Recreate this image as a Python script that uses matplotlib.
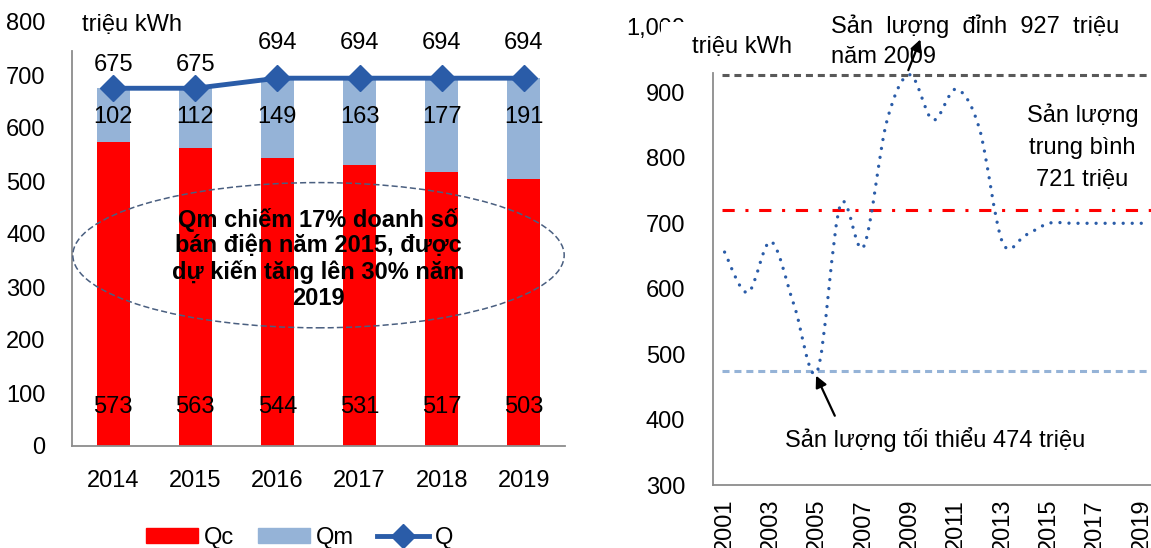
import matplotlib

matplotlib.use("Agg")
import matplotlib.pyplot as plt
import numpy as np
from matplotlib.patches import Ellipse, PathPatch, Rectangle, Patch
from matplotlib.path import Path
from matplotlib.lines import Line2D

plt.rcParams["font.family"] = ["Liberation Sans", "DejaVu Sans"]

# left chart data
years_left = ["2014", "2015", "2016", "2017", "2018", "2019"]
qc_values = [573, 563, 544, 531, 517, 503]
qm_values = [102, 112, 149, 163, 177, 191]
q_values = [675, 675, 694, 694, 694, 694]

# right chart data
years_right = list(range(2001, 2020))
output_values = [656, 594, 672, 575, 474, 728, 664, 855, 927, 858,
                 905, 845, 671, 682, 700, 700, 700, 700, 700]
peak_value = 927
mean_value = 721
min_value = 474

RED = "#FF0000"
LIGHT_BLUE = "#95B3D7"
DARK_BLUE = "#2A5CA8"
SPINE = "#8C8C8C"
FS = 17

W, H = 1151, 548


def smooth_path(xs, ys):
    # Catmull-Rom style bezier through the points (like Excel smoothed lines)
    pts = np.column_stack([xs, ys]).astype(float)
    n = len(pts)
    verts = [pts[0]]
    codes = [Path.MOVETO]
    for i in range(n - 1):
        p0 = pts[i - 1] if i > 0 else pts[i]
        p1 = pts[i]
        p2 = pts[i + 1]
        p3 = pts[i + 2] if i + 2 < n else pts[i + 1]
        c1 = p1 + (p2 - p0) / 6.0
        c2 = p2 - (p3 - p1) / 6.0
        verts += [c1, c2, p2]
        codes += [Path.CURVE4] * 3
    return Path(verts, codes)


def style_axes(ax):
    for side in ["top", "right"]:
        ax.spines[side].set_visible(False)
    for side in ["left", "bottom"]:
        ax.spines[side].set_color(SPINE)
        ax.spines[side].set_linewidth(1.3)


fig = plt.figure(figsize=(W / 100, H / 100), dpi=100)

# ---------------- left chart ----------------
ax1 = fig.add_axes([72 / W, (H - 446) / H, 493 / W, 424 / H])
x = np.arange(len(years_left))
bar_w = 0.4
ax1.bar(x, qc_values, width=bar_w, color=RED, label="Qc", zorder=2)
ax1.bar(x, qm_values, width=bar_w, bottom=qc_values, color=LIGHT_BLUE,
        label="Qm", zorder=2)
ax1.plot(x, q_values, color=DARK_BLUE, lw=3.5, marker="D", ms=13.5,
         label="Q", zorder=3)

for i in range(len(x)):
    ax1.text(x[i], 73, str(qc_values[i]), ha="center", va="center",
             fontsize=FS, zorder=4)
    ax1.text(x[i], 620, str(qm_values[i]), ha="center", va="center",
             fontsize=FS, zorder=4)
    offset = 23 if q_values[i] < 690 else 35
    ax1.annotate(str(q_values[i]), (x[i], q_values[i]), xytext=(0, offset),
                 textcoords="offset pixels", ha="center", va="center",
                 fontsize=FS, zorder=4)

ax1.set_xlim(-0.5, len(x) - 0.5)
ax1.set_ylim(0, 800)
ax1.set_yticks(range(0, 801, 100))
ax1.set_xticks(x)
ax1.set_xticklabels(years_left)
ax1.tick_params(length=0, labelsize=FS)
ax1.tick_params(axis="x", pad=17)
ax1.tick_params(axis="y", pad=19)
style_axes(ax1)
ax1.spines["left"].set_bounds(0, 745)
ax1.text(0.02, 0.993, "triệu kWh", transform=ax1.transAxes, fontsize=FS,
         ha="left", va="center")

ell = Ellipse((2.5, 360), width=5.98, height=274, fill=False,
              ls=(0, (4, 2)), ec="#4A5F80", lw=1.1, zorder=5, clip_on=False)
ax1.add_patch(ell)
ax1.text(2.5, 353, "Qm chiếm 17% doanh số\nbán điện năm 2015, được\n"
         "dự kiến tăng lên 30% năm\n2019", ha="center", va="center",
         fontsize=17, fontweight="bold", linespacing=1.15, zorder=6)

handles = [Patch(color=RED, label="Qc"), Patch(color=LIGHT_BLUE, label="Qm"),
           Line2D([], [], color=DARK_BLUE, lw=3.5, marker="D", ms=12, label="Q")]
fig.legend(handles=handles, loc="center", bbox_to_anchor=(300 / W, 1 - 538 / H),
           ncol=3, frameon=False, fontsize=FS, handlelength=2.2,
           handleheight=0.6, handletextpad=0.25, columnspacing=1.0)

# ---------------- right chart ----------------
ax2 = fig.add_axes([713 / W, (H - 485) / H, 440 / W, 458 / H])
xr = np.arange(len(years_right))
path = smooth_path(xr, output_values)
ax2.add_patch(PathPatch(path, fill=False, ec=DARK_BLUE, lw=2.4,
                        ls=(0, (0.01, 2.7)), capstyle="round", zorder=3))

ax2.hlines(peak_value, -0.13, len(xr) - 0.5, colors="#595959", lw=2.2,
           linestyles=(0, (2.3, 1.6)), zorder=2)
ax2.hlines(mean_value, -0.13, len(xr) - 0.5, colors=RED, lw=2.2,
           linestyles=(0, (4, 3.5, 1, 3.5)), zorder=2)
ax2.hlines(min_value, -0.13, len(xr) - 0.5, colors=LIGHT_BLUE, lw=2.2,
           linestyles=(0, (2.3, 1.6)), zorder=2)

ax2.set_xlim(-0.5, len(xr) - 0.5)
ax2.set_ylim(300, 1000)
ax2.set_yticks(range(300, 1001, 100))
ax2.set_yticklabels(["300", "400", "500", "600", "700", "800", "900", "1,000"])
ax2.set_xticks(xr[::2])
ax2.set_xticklabels([str(y) for y in years_right[::2]], rotation=90)
ax2.tick_params(length=0, labelsize=FS)
ax2.tick_params(axis="y", pad=20)
ax2.tick_params(axis="x", pad=10)
style_axes(ax2)
ax2.spines["left"].set_bounds(300, 930)

# unit label box sits over part of the "1,000" tick label
fig.add_artist(Rectangle((661 / W, 1 - 68 / H), 135 / W, 46 / H,
                         transform=fig.transFigure, fc="white", ec="none",
                         zorder=8))
fig.text(692 / W, 1 - 47 / H, "triệu kWh", fontsize=FS, ha="left",
         va="center", zorder=10)

ax2.text(4.6, 978, "Sản  lượng  đỉnh  927  triệu\nnăm 2009", ha="left",
         va="center", fontsize=FS, linespacing=1.5, zorder=6)
ax2.annotate("", xy=(8.5, 985), xytext=(7.89, 930),
             arrowprops=dict(arrowstyle="-|>", color="black", lw=1.6,
                             mutation_scale=17), zorder=6)
ax2.text(15.46, 816, "Sản lượng\ntrung bình\n721 triệu", ha="center",
         va="center", fontsize=FS, linespacing=1.6, zorder=6)
ax2.text(9.11, 370, "Sản lượng tối thiểu 474 triệu", ha="center",
         va="center", fontsize=FS, zorder=6)
ax2.annotate("", xy=(3.9, 471), xytext=(4.81, 402),
             arrowprops=dict(arrowstyle="-|>", color="black", lw=1.6,
                             mutation_scale=17), zorder=6)

fig.savefig("out.png", dpi=100)
